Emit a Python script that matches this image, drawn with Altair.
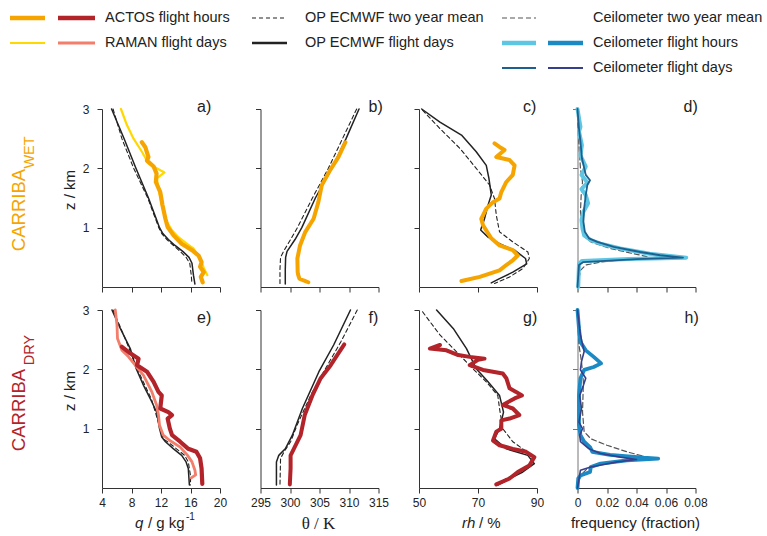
import altair as alt
import pandas as pd

# ---------------- data (z in km) ----------------
# a) specific humidity q, CARRIBA wet
a_opmean_z = [3.0, 2.5, 2.0, 1.5, 1.2, 1.0, 0.9, 0.8, 0.7, 0.6, 0.5, 0.4, 0.2, 0.05]
a_opmean_v = [5.5, 6.7, 8.3, 10.2, 11.1, 11.7, 12.1, 12.8, 13.7, 14.6, 15.4, 15.9, 16.1, 16.2]
a_opdays_z = [3.0, 2.5, 2.0, 1.5, 1.2, 1.0, 0.9, 0.8, 0.7, 0.6, 0.5, 0.4, 0.2, 0.05]
a_opdays_v = [5.3, 7.0, 8.6, 10.3, 11.2, 11.8, 12.25, 13.0, 13.9, 14.95, 15.8, 16.2, 16.4, 16.6]
a_raman_z = [3.0, 2.73, 2.50, 2.28, 2.08, 2.03, 1.93, 1.83, 1.66, 1.43, 1.27, 1.10, 0.96, 0.84, 0.73, 0.65, 0.53, 0.42, 0.31, 0.20]
a_raman_v = [6.57, 7.38, 8.28, 9.41, 10.31, 10.98, 12.47, 11.44, 11.66, 12.02, 12.34, 12.79, 13.46, 14.37, 15.49, 16.39, 17.07, 17.52, 17.83, 18.29]
a_actos_z = [2.44, 2.36, 2.19, 2.13, 2.03, 1.91, 1.77, 1.6, 1.38, 1.15, 1.01, 0.87, 0.73, 0.62, 0.53, 0.42, 0.34, 0.25, 0.17, 0.08]
a_actos_v = [9.4, 9.86, 10.3, 10.1, 11.0, 11.4, 11.3, 11.9, 12.2, 12.6, 12.9, 13.7, 14.8, 16.2, 17.1, 17.5, 17.3, 17.8, 17.4, 17.65]

# b) potential temperature, wet
b_opmean_z = [3.0, 2.5, 2.0, 1.5, 1.0, 0.8, 0.6, 0.5, 0.3, 0.05]
b_opmean_v = [311.3, 308.9, 306.5, 303.8, 301.25, 300.1, 298.9, 298.4, 298.3, 298.3]
b_opdays_z = [3.0, 2.5, 2.0, 1.5, 1.0, 0.8, 0.6, 0.5, 0.3, 0.05]
b_opdays_v = [311.7, 309.5, 307.1, 304.3, 302.0, 300.85, 299.5, 299.26, 299.2, 299.2]
b_actos_z = [2.44, 2.19, 1.97, 1.72, 1.43, 1.15, 0.93, 0.70, 0.48, 0.25, 0.2, 0.14, 0.11, 0.08]
b_actos_v = [309.4, 308.2, 306.8, 305.4, 304.8, 304.0, 302.6, 301.7, 301.25, 301.3, 301.4, 301.6, 302.3, 303.1]

# c) relative humidity, wet
c_opmean_z = [2.98, 2.67, 2.34, 2.0, 1.72, 1.49, 1.21, 0.93, 0.76, 0.59, 0.48, 0.31, 0.17, 0.06]
c_opmean_v = [51.2, 57.1, 63.8, 69.4, 73.9, 75.6, 76.2, 77.3, 81.8, 86.9, 87.4, 85.2, 80.7, 75.6]
c_opdays_z = [3.0, 2.78, 2.56, 2.28, 2.05, 1.83, 1.55, 1.38, 1.15, 0.96, 0.84, 0.73, 0.62, 0.48, 0.39, 0.25, 0.14, 0.07]
c_opdays_v = [50.9, 57.1, 64.4, 69.4, 72.8, 73.7, 74.5, 73.4, 72.2, 70.9, 73.4, 77.3, 82.4, 86.1, 86.5, 81.8, 77.3, 74.5]
c_actos_z = [2.42, 2.36, 2.31, 2.19, 2.14, 2.05, 1.89, 1.77, 1.60, 1.49, 1.43, 1.32, 1.15, 1.04, 0.82, 0.70, 0.62, 0.53, 0.45, 0.37, 0.28, 0.17, 0.10]
c_actos_v = [75.6, 77.3, 79.0, 76.2, 80.7, 82.4, 81.8, 79.6, 77.9, 77.3, 75.1, 72.8, 71.1, 71.7, 74.5, 77.3, 81.8, 83.5, 81.8, 79.6, 77.3, 70.6, 64.4]

# d) ceilometer cloud-base frequency, wet
d_mean_z = [2.9, 2.39, 2.0, 1.77, 1.55, 1.27, 0.87, 0.76, 0.65, 0.56, 0.51, 0.47, 0.42, 0.37, 0.28, 0.0]
d_mean_v = [0.0, 0.001, 0.002, 0.0034, 0.0025, 0.002, 0.004, 0.009, 0.022, 0.038, 0.048, 0.0335, 0.0156, 0.0056, 0.002, 0.0]
d_hours_z = [3.0, 2.70, 2.62, 2.39, 2.22, 2.03, 1.89, 1.76, 1.65, 1.55, 1.41, 1.27, 1.13, 0.98, 0.87, 0.79, 0.73, 0.65, 0.56, 0.495, 0.47, 0.44, 0.39, 0.0]
d_hours_v = [0.0, 0.002, 0.001, 0.003, 0.002, 0.0056, 0.0027, 0.0067, 0.0027, 0.0056, 0.0072, 0.004, 0.0027, 0.0034, 0.0045, 0.009, 0.0156, 0.029, 0.049, 0.0737, 0.035, 0.003, 0.001, 0.0005]
d_days_z = [3.0, 2.67, 2.45, 2.17, 1.89, 1.80, 1.72, 1.55, 1.32, 1.10, 0.93, 0.82, 0.76, 0.675, 0.59, 0.535, 0.495, 0.47, 0.42, 0.37, 0.0]
d_days_v = [0.0, 0.001, 0.002, 0.003, 0.0056, 0.0085, 0.0067, 0.0056, 0.0045, 0.004, 0.005, 0.0078, 0.0134, 0.0246, 0.0425, 0.056, 0.0715, 0.04, 0.004, 0.001, 0.0]

# e) q, dry
e_opmean_z = [3.0, 2.5, 2.0, 1.5, 1.0, 0.83, 0.77, 0.66, 0.55, 0.44, 0.21, 0.05]
e_opmean_v = [5.5, 7.2, 8.8, 10.7, 11.9, 12.3, 13.0, 14.1, 15.2, 15.7, 16.0, 16.0]
e_opdays_z = [3.0, 2.69, 2.35, 2.01, 1.73, 1.45, 1.28, 1.0, 0.86, 0.78, 0.66, 0.55, 0.44, 0.33, 0.05]
e_opdays_v = [5.35, 6.48, 7.83, 8.64, 9.63, 10.76, 11.4, 11.8, 12.1, 12.6, 13.7, 14.8, 15.4, 15.7, 15.85]
e_raman_z = [3.0, 2.75, 2.52, 2.32, 2.21, 2.07, 1.9, 1.62, 1.40, 1.23, 1.06, 0.89, 0.80, 0.69, 0.55, 0.44, 0.30, 0.22, 0.17]
e_raman_v = [5.8, 6.03, 6.1, 6.7, 7.6, 8.5, 9.63, 10.76, 11.4, 11.66, 11.8, 12.3, 13.2, 14.6, 15.6, 16.2, 16.6, 16.7, 16.1]
e_actos_z = [2.38, 2.27, 2.18, 2.07, 1.96, 1.79, 1.62, 1.56, 1.34, 1.28, 1.23, 1.17, 1.0, 0.89, 0.78, 0.66, 0.61, 0.50, 0.33, 0.07]
e_actos_v = [6.7, 7.83, 8.96, 8.75, 10.1, 11.0, 11.66, 12.1, 11.9, 13.0, 13.5, 12.9, 13.2, 13.5, 14.6, 15.7, 16.8, 17.3, 17.5, 17.6]

# f) potential temperature, dry
f_opmean_z = [3.0, 2.46, 2.01, 1.56, 1.06, 0.78, 0.61, 0.50, 0.05]
f_opmean_v = [311.4, 308.6, 306.0, 303.5, 301.2, 300.1, 299.0, 298.4, 298.3]
f_opdays_z = [3.0, 2.41, 1.96, 1.34, 0.89, 0.66, 0.55, 0.44, 0.05]
f_opdays_v = [310.25, 307.4, 304.9, 302.1, 300.4, 299.2, 298.1, 297.7, 297.7]
f_actos_z = [2.42, 2.24, 2.07, 1.85, 1.56, 1.23, 0.89, 0.66, 0.55, 0.33, 0.06]
f_actos_v = [309.2, 308.0, 306.9, 305.2, 303.8, 302.5, 301.8, 300.65, 300.1, 300.1, 299.97]

# g) relative humidity, dry
g_opmean_z = [2.97, 2.58, 2.24, 2.01, 1.79, 1.56, 1.34, 1.0, 0.78, 0.58, 0.44, 0.30, 0.16, 0.06]
g_opmean_v = [51.2, 57.1, 63.8, 68.3, 72.8, 76.7, 77.3, 78.4, 81.8, 87.4, 88.5, 85.2, 79.6, 76.2]
g_opdays_z = [3.0, 2.69, 2.35, 2.01, 1.79, 1.56, 1.28, 1.0, 0.83, 0.66, 0.55, 0.41, 0.27, 0.13, 0.05]
g_opdays_v = [55.96, 61.6, 66.1, 69.4, 73.4, 77.3, 78.65, 77.3, 75.6, 79.6, 86.9, 89.1, 85.2, 79.6, 76.7]
g_actos_z = [2.41, 2.35, 2.32, 2.24, 2.21, 2.18, 2.16, 2.07, 1.99, 1.93, 1.85, 1.68, 1.62, 1.56, 1.51, 1.40, 1.34, 1.23, 1.17, 1.14, 1.0, 0.95, 0.80, 0.72, 0.66, 0.61, 0.52, 0.38, 0.27, 0.16, 0.06]
g_actos_v = [57.1, 53.7, 59.3, 63.3, 67.2, 72.2, 70.0, 67.2, 71.7, 78.4, 79.6, 80.7, 82.9, 84.9, 82.4, 78.4, 81.8, 84.0, 80.7, 77.9, 77.9, 76.2, 75.1, 77.3, 81.8, 86.3, 89.1, 87.4, 83.5, 80.7, 76.2]

# h) ceilometer cloud-base frequency, dry
h_mean_z = [2.92, 2.41, 2.13, 1.79, 1.28, 0.95, 0.83, 0.72, 0.61, 0.52, 0.48, 0.41, 0.33, 0.21, 0.0]
h_mean_v = [0.0, 0.001, 0.0027, 0.004, 0.0034, 0.0045, 0.009, 0.02, 0.0335, 0.047, 0.038, 0.018, 0.0067, 0.002, 0.0]
h_hours_z = [3.0, 2.69, 2.46, 2.32, 2.21, 2.10, 2.04, 1.99, 1.85, 1.56, 1.28, 1.06, 0.89, 0.78, 0.69, 0.61, 0.56, 0.51, 0.495, 0.467, 0.41, 0.355, 0.27, 0.21, 0.16, 0.0]
h_hours_v = [0.0, 0.001, 0.002, 0.0056, 0.011, 0.016, 0.011, 0.0045, 0.002, 0.001, 0.001, 0.001, 0.002, 0.0045, 0.0085, 0.010, 0.022, 0.045, 0.0547, 0.0335, 0.0156, 0.009, 0.0085, 0.002, 0.0005, 0.0]
h_days_z = [3.0, 2.58, 2.30, 2.13, 1.99, 1.85, 1.73, 1.56, 1.34, 1.11, 1.0, 0.89, 0.78, 0.66, 0.58, 0.52, 0.48, 0.44, 0.355, 0.30, 0.0]
h_days_v = [0.0, 0.002, 0.0045, 0.0027, 0.002, 0.0056, 0.004, 0.0015, 0.0027, 0.001, 0.0034, 0.0015, 0.002, 0.0078, 0.0156, 0.029, 0.04, 0.027, 0.009, 0.002, 0.0]

# ---------------- styles ----------------
ORANGE = "#F6A400"
DARKRED = "#B3232A"
YELLOW = "#FFD800"
SALMON = "#F27E6B"
LIGHTBLUE = "#5EC5E2"
BLUE = "#1B8AC4"
TEAL = "#1D5F8E"
NAVY = "#353F8C"
BLACK = "#222222"
GRAY = "#555555"
FONT = "Liberation Sans"
W, H = 118, 178
ONE = pd.DataFrame({"k": [0]})


def series(z, v):
    return pd.DataFrame({"z": z, "v": v, "i": list(range(len(z)))})


def txt(s, x, y, size=15, color=BLACK, font=FONT, style="normal", angle=None, align="left"):
    kw = dict(text=s, fontSize=size, color=color, font=font, fontStyle=style,
              align=align, baseline="middle")
    if angle is not None:
        kw["angle"] = angle
    return alt.Chart(ONE).mark_text(**kw).encode(x=alt.value(x), y=alt.value(y))


def seg(x1, x2, y, color, width, dash=None):
    kw = dict(color=color, strokeWidth=width)
    if dash:
        kw["strokeDash"] = dash
    return alt.Chart(ONE).mark_rule(**kw).encode(x=alt.value(x1), x2=alt.value(x2), y=alt.value(y))


def panel(xdomain, xticks, bottom, left, lines, label, lx, ly, extra=(), fmt=None, axcolor="#333333"):
    xs = alt.Scale(domain=xdomain, nice=False, zero=False)
    ys = alt.Scale(domain=[0, 3], nice=False, zero=False)
    xkw = dict(values=xticks, labels=bottom, title=None, grid=False, tickSize=5,
               labelFontSize=12, labelFont=FONT, labelColor=BLACK, labelPadding=4,
               domainColor="#333333", tickColor="#333333", labelFlush=False, labelOverlap=False)
    if fmt:
        xkw["format"] = fmt
    xa = alt.Axis(**xkw)
    ya = alt.Axis(values=[1, 2, 3], labels=left, title=None, grid=False, tickSize=5,
                  labelFontSize=12, labelFont=FONT, labelColor=BLACK, labelPadding=8,
                  domainColor=axcolor, tickColor=axcolor, format="d")
    layers = []
    for z, v, color, width, dash in lines:
        mk = dict(color=color, strokeWidth=width, strokeJoin="round", strokeCap="round")
        if dash:
            mk["strokeDash"] = dash
        layers.append(alt.Chart(series(z, v)).mark_line(**mk).encode(
            x=alt.X("v:Q", scale=xs, axis=xa),
            y=alt.Y("z:Q", scale=ys, axis=ya),
            order="i:Q"))
    layers.append(txt(label, lx, ly, size=16))
    layers += list(extra)
    return alt.layer(*layers).properties(width=W, height=H)


DASH_OP = [4, 3]
DASH_CE = [5, 3]
TY = H + 35   # x-title centre, relative to panel top

# legend (drawn relative to panel a's origin) + row label for the wet row
legend = [
    seg(-92, -57, -91, ORANGE, 4.5), seg(-44, -7, -91, DARKRED, 4.5),
    seg(-92, -57, -66, YELLOW, 2.2), seg(-44, -7, -66, SALMON, 2.8),
    txt("ACTOS flight hours", 3, -91, 14.5), txt("RAMAN flight days", 3, -66, 14.5),
    seg(150, 185, -91, BLACK, 1.2, DASH_OP), seg(150, 185, -66, BLACK, 2.6),
    txt("OP ECMWF two year mean", 203, -91, 14.5), txt("OP ECMWF flight days", 203, -66, 14.5),
    seg(400, 434, -91, GRAY, 1.2, DASH_CE),
    seg(400, 434, -66, LIGHTBLUE, 4.5), seg(446, 481, -66, BLUE, 4.5),
    seg(400, 434, -41, TEAL, 2), seg(446, 481, -41, NAVY, 2),
    txt("Ceilometer two year mean", 491, -91, 14.5),
    txt("Ceilometer flight hours", 491, -66, 14.5),
    txt("Ceilometer flight days", 491, -41, 14.5),
    txt("CARRIBA", -83, 101, 18.5, ORANGE, angle=270, align="center"),
    txt("WET", -72, 43.5, 14.5, ORANGE, angle=270, align="center"),
    txt("z / km", -32, 81, 15, angle=270, align="center"),
]

pa = panel([4, 20], [4, 8, 12, 16, 20], False, True, [
    (a_opmean_z, a_opmean_v, BLACK, 1.1, DASH_OP),
    (a_opdays_z, a_opdays_v, BLACK, 1.5, None),
    (a_raman_z, a_raman_v, YELLOW, 2.2, None),
    (a_actos_z, a_actos_v, ORANGE, 4.2, None),
], "a)", 95, -2, legend)

pb = panel([295, 315], [295, 300, 305, 310, 315], False, False, [
    (b_opmean_z, b_opmean_v, BLACK, 1.1, DASH_OP),
    (b_opdays_z, b_opdays_v, BLACK, 1.5, None),
    (b_actos_z, b_actos_v, ORANGE, 4.0, None),
], "b)", 108, -2)

pc = panel([50, 90], [50, 70, 90], False, False, [
    (c_opmean_z, c_opmean_v, BLACK, 1.1, DASH_OP),
    (c_opdays_z, c_opdays_v, BLACK, 1.5, None),
    (c_actos_z, c_actos_v, ORANGE, 4.0, None),
], "c)", 104, -2)

pd_ = panel([0, 0.08], [0, 0.02, 0.04, 0.06, 0.08], False, False, [
    (d_mean_z, d_mean_v, GRAY, 1.2, DASH_CE),
    (d_hours_z, d_hours_v, LIGHTBLUE, 4.0, None),
    (d_days_z, d_days_v, TEAL, 1.8, None),
], "d)", 106, -2, fmt=".2~f", axcolor="#777777")

extra_e = [
    txt("CARRIBA", -83, 100, 18.5, DARKRED, angle=270, align="center"),
    txt("DRY", -72, 40, 14.5, DARKRED, angle=270, align="center"),
    txt("z / km", -32, 81, 15, angle=270, align="center"),
    txt("q", 33, TY, 15, style="italic"),
    txt("/ g kg", 46, TY, 15),
    txt("-1", 84, TY - 6, 10),
]
pe = panel([4, 20], [4, 8, 12, 16, 20], True, True, [
    (e_opmean_z, e_opmean_v, BLACK, 1.1, DASH_OP),
    (e_opdays_z, e_opdays_v, BLACK, 1.5, None),
    (e_raman_z, e_raman_v, SALMON, 2.8, None),
    (e_actos_z, e_actos_v, DARKRED, 4.2, None),
], "e)", 95, 8, extra_e)

pf = panel([295, 315], [295, 300, 305, 310, 315], True, False, [
    (f_opmean_z, f_opmean_v, BLACK, 1.1, DASH_OP),
    (f_opdays_z, f_opdays_v, BLACK, 1.5, None),
    (f_actos_z, f_actos_v, DARKRED, 4.0, None),
], "f)", 108, 8, [txt("θ / K", 58, TY + 1, 17, font="Liberation Serif", align="center")])

pg = panel([50, 90], [50, 70, 90], True, False, [
    (g_opmean_z, g_opmean_v, BLACK, 1.1, DASH_OP),
    (g_opdays_z, g_opdays_v, BLACK, 1.5, None),
    (g_actos_z, g_actos_v, DARKRED, 4.0, None),
], "g)", 104, 8, [txt("rh", 43, TY, 15, style="italic"), txt("/ %", 60, TY, 15)])

ph = panel([0, 0.08], [0, 0.02, 0.04, 0.06, 0.08], True, False, [
    (h_mean_z, h_mean_v, GRAY, 1.2, DASH_CE),
    (h_hours_z, h_hours_v, BLUE, 3.8, None),
    (h_days_z, h_days_v, NAVY, 1.6, None),
], "h)", 107, 8, [txt("frequency (fraction)", 58, TY, 15, align="center")],
    fmt=".2~f", axcolor="#777777")

chart = alt.concat(
    pa, pb, pc, pd_, pe, pf, pg, ph,
    columns=4,
    spacing=alt.RowColnumber(row=23, column=40.5),
    bounds="flush",
).properties(
    autosize=alt.AutoSizeParams(type="none"),
    padding={"left": 102, "top": 109, "right": 665, "bottom": 427},
    background="white",
).configure_view(stroke=None)

chart.save("out.html", embed_options={"renderer": "svg", "actions": False})
